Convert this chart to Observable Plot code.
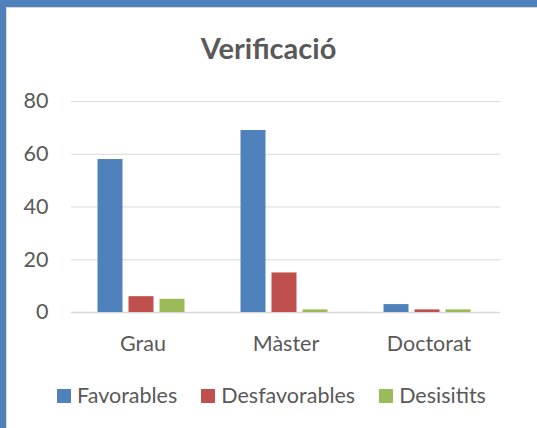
<!DOCTYPE html>
<html><head><meta charset="utf-8">
<script src="https://cdn.jsdelivr.net/npm/d3@7"></script>
<script src="https://cdn.jsdelivr.net/npm/@observablehq/plot@0.6"></script>
<style>
body{margin:0;background:#fff;}
#wrap{position:relative;width:537px;height:428px;overflow:hidden;font-family:Lato,sans-serif;color:#595959;background:#fff;}
#chart{position:absolute;left:0;top:0;}
#title{position:absolute;left:0;width:537px;top:33px;text-align:center;font-size:29px;font-weight:bold;line-height:1;}
#legend{position:absolute;left:6px;width:531px;top:385px;display:flex;justify-content:center;align-items:center;font-size:21.5px;line-height:1;}
.item{display:flex;align-items:center;margin:0 12px;}
.sw{width:14px;height:14px;margin-right:6px;}
.bl{position:absolute;left:0;top:0;width:6px;height:428px;background:#4F81BD;}
.bl2{position:absolute;left:6px;top:7px;width:1px;height:421px;background:#D9D9D9;}
.bt{position:absolute;left:0;top:0;width:537px;height:7px;background:#4F81BD;}
.bt2{position:absolute;left:6px;top:7px;width:531px;height:1px;background:#D9D9D9;}
</style></head><body>
<div id="wrap">
  <div id="chart"></div>
  <div id="title">Verificació</div>
  <div id="legend"></div>
  <div class="bl"></div><div class="bt"></div><div class="bl2"></div><div class="bt2"></div>
</div>
<script>
const categories = ["Grau", "Màster", "Doctorat"];
const series = ["Favorables", "Desfavorables", "Desisitits"];
const favorables = [58, 69, 3];
const desfavorables = [6, 15, 1];
const desisitits = [5, 1, 1];
const colors = ["#4F81BD", "#C0504D", "#9BBB59"];
const yTicks = [0, 20, 40, 60, 80];

const values = [favorables, desfavorables, desisitits];
const data = [];
categories.forEach((c, i) => series.forEach((s, j) => data.push({cat: c, series: s, value: values[j][i]})));

const chart = Plot.plot({
  width: 537,
  height: 360,
  marginLeft: 71,
  marginRight: 37,
  marginTop: 101,
  marginBottom: 48,
  style: {fontFamily: "Lato, sans-serif", color: "#595959", background: "transparent"},
  fx: {domain: categories, padding: 0, label: null},
  x: {domain: series, paddingInner: 0.206, paddingOuter: 0.873, axis: null},
  y: {domain: [0, 80], label: null},
  color: {domain: series, range: colors},
  marks: [
    Plot.gridY(yTicks, {stroke: "#D9D9D9", strokeOpacity: 1, strokeWidth: 1}),
    Plot.ruleY([0], {stroke: "#D9D9D9", strokeWidth: 1.5}),
    Plot.axisY(yTicks, {tickSize: 0, tickPadding: 23, fontSize: 21.5, label: null, fill: "#595959"}),
    Plot.axisFx({anchor: "bottom", tickSize: 0, tickPadding: 23, fontSize: 21.5, label: null, fill: "#595959"}),
    Plot.barY(data, {fx: "cat", x: "series", y: "value", fill: "series", dx: -1.5})
  ]
});
document.getElementById("chart").appendChild(chart);

const legend = document.getElementById("legend");
series.forEach((s, j) => {
  const it = document.createElement("div");
  it.className = "item";
  const sw = document.createElement("span");
  sw.className = "sw";
  sw.style.background = colors[j];
  const t = document.createElement("span");
  t.textContent = s;
  it.appendChild(sw); it.appendChild(t);
  legend.appendChild(it);
});
</script>
</body></html>
